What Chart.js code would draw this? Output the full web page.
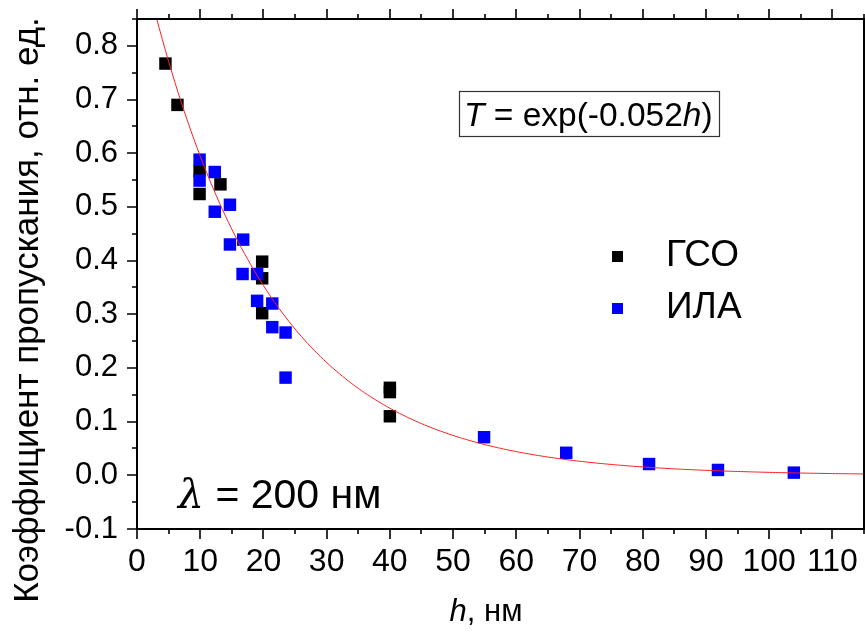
<!DOCTYPE html>
<html>
<head>
<meta charset="utf-8">
<script src="https://cdn.jsdelivr.net/npm/chart.js@4.4.1/dist/chart.umd.min.js"></script>
<style>
  html, body { margin: 0; padding: 0; background: #fff; }
  #wrap { width: 865px; height: 639px; position: relative; }
</style>
</head>
<body>
<div id="wrap"><canvas id="c" width="865" height="639"></canvas></div>
<script>
// Thickness h (nm) and transmission T for the two sample sets
const gsoH = [4.5, 6.4, 9.9, 9.9, 13.2, 19.8, 19.8, 19.8, 40.0, 40.0, 40.0];
const gsoT = [0.767, 0.690, 0.567, 0.524, 0.542, 0.398, 0.367, 0.302, 0.163, 0.155, 0.110];

const ilaH = [9.9, 9.9, 12.3, 12.3, 14.7, 14.7, 16.8, 16.7, 19.0, 19.0, 21.4, 21.4, 23.5, 23.5, 54.9, 67.9, 81.0, 91.9, 103.9];
const ilaT = [0.588, 0.549, 0.565, 0.491, 0.504, 0.430, 0.439, 0.375, 0.375, 0.325, 0.320, 0.276, 0.266, 0.182, 0.071, 0.042, 0.021, 0.010, 0.005];

// Exponential fit T = exp(-k h)
const fitK = 0.052;
const fitH = [];
for (let h = 3; h <= 115; h += 0.5) fitH.push(h);

const xTicks = [0, 10, 20, 30, 40, 50, 60, 70, 80, 90, 100, 110];
const yTicks = [-0.1, 0, 0.1, 0.2, 0.3, 0.4, 0.5, 0.6, 0.7, 0.8];

const FONT = '"Liberation Sans", Arial, sans-serif';

const toPts = (xs, ys) => xs.map((x, i) => ({ x: x, y: ys[i] }));

const zeroPad = s => { s.paddingTop = 0; s.paddingBottom = 0; s.paddingLeft = 0; s.paddingRight = 0; };

const frame = {
  id: 'frame',
  afterDatasetsDraw(chart) {
    const ctx = chart.ctx;
    const a = chart.chartArea;
    const xs = chart.scales.x, ys = chart.scales.y;
    ctx.save();
    ctx.strokeStyle = '#000';
    ctx.lineWidth = 2;
    ctx.strokeRect(a.left, a.top, a.right - a.left, a.bottom - a.top);
    // x ticks (bottom and top), major every 10, minor every 5
    ctx.lineWidth = 1.6;
    ctx.beginPath();
    for (let v = 0; v <= 115; v += 5) {
      const px = Math.round(xs.getPixelForValue(v));
      const len = (v % 10 === 0) ? 10 : 5;
      ctx.moveTo(px, a.bottom); ctx.lineTo(px, a.bottom + len);
      ctx.moveTo(px, a.top); ctx.lineTo(px, a.top - len);
    }
    // y ticks, major every 0.1, minor every 0.05
    for (let i = -2; i <= 17; i++) {
      const v = i * 0.05;
      const py = Math.round(ys.getPixelForValue(v));
      const len = (i % 2 === 0) ? 10 : 5;
      ctx.moveTo(a.left, py); ctx.lineTo(a.left - len, py);
    }
    ctx.stroke();

    // axis titles
    ctx.fillStyle = '#000';
    ctx.textBaseline = 'alphabetic';
    // x title: italic h
    const xt1 = 'h', xt2 = ', нм';
    ctx.font = 'italic 31px ' + FONT;
    const w1 = ctx.measureText(xt1).width;
    ctx.font = '31px ' + FONT;
    const w2 = ctx.measureText(xt2).width;
    const cx = 486;
    let sx = cx - (w1 + w2) / 2;
    ctx.font = 'italic 31px ' + FONT;
    ctx.textAlign = 'left';
    ctx.fillText(xt1, sx, 621);
    ctx.font = '31px ' + FONT;
    ctx.fillText(xt2, sx + w1, 621);

    // y title
    ctx.save();
    ctx.translate(38, 310);
    ctx.rotate(-Math.PI / 2);
    ctx.font = '35px ' + FONT;
    ctx.textAlign = 'center';
    ctx.fillText('Коэффициент пропускания, отн. ед.', 0, 0);
    ctx.restore();

    // fit equation box
    ctx.lineWidth = 1.2;
    ctx.strokeStyle = '#333';
    ctx.strokeRect(459.5, 91.5, 260, 45);
    const parts = [['T', true], [' = exp(-0.052', false], ['h', true], [')', false]];
    let tx = 464;
    ctx.textAlign = 'left';
    for (const [s, it] of parts) {
      ctx.font = (it ? 'italic ' : '') + '33.5px ' + FONT;
      ctx.fillText(s, tx, 126);
      tx += ctx.measureText(s).width;
    }

    // wavelength label
    ctx.font = 'italic 41px "DejaVu Serif", serif';
    ctx.fillText('λ', 178, 508);
    const lw = ctx.measureText('λ').width;
    ctx.font = '41px ' + FONT;
    ctx.fillText(' = 200 нм', 178 + lw, 508);

    // legend
    const items = [['ГСО', chart.data.datasets[2].backgroundColor, 256],
                   ['ИЛА', chart.data.datasets[1].backgroundColor, 308]];
    for (const [label, col, yc] of items) {
      ctx.fillStyle = col;
      ctx.fillRect(612, yc - 5, 11, 11);
      ctx.fillStyle = '#000';
      ctx.font = '37px ' + FONT;
      ctx.textBaseline = 'middle';
      ctx.fillText(label, 666, yc);
    }
    ctx.restore();
  }
};

new Chart(document.getElementById('c'), {
  type: 'scatter',
  data: {
    datasets: [
      {
        label: 'fit',
        type: 'line',
        data: fitH.map(h => ({ x: h, y: Math.exp(-fitK * h) })),
        borderColor: '#ff2020',
        borderWidth: 1,
        pointRadius: 0,
        fill: false,
        tension: 0,
        order: 0
      },
      {
        label: 'ИЛА',
        data: toPts(ilaH, ilaT),
        backgroundColor: '#0000ff',
        borderColor: '#0000ff',
        borderWidth: 0,
        pointStyle: 'rect',
        pointRadius: 8.8,
        order: 1
      },
      {
        label: 'ГСО',
        data: toPts(gsoH, gsoT),
        backgroundColor: '#000000',
        borderColor: '#000000',
        borderWidth: 0,
        pointStyle: 'rect',
        pointRadius: 8.8,
        order: 2
      }
    ]
  },
  options: {
    responsive: false,
    animation: false,
    events: [],
    layout: { autoPadding: false, padding: { top: 19, right: 1, left: 0, bottom: 0 } },
    plugins: { legend: { display: false }, tooltip: { enabled: false } },
    scales: {
      x: {
        type: 'linear',
        min: 0, max: 115,
        afterBuildTicks: s => { s.ticks = xTicks.map(v => ({ value: v })); },
        afterFit: s => { s.height = 110; zeroPad(s); },
        grid: { display: false, drawTicks: false },
        border: { display: false },
        ticks: {
          color: '#000',
          font: { family: FONT, size: 32 },
          padding: 14,
          maxRotation: 0,
          autoSkip: false,
          callback: v => String(v)
        }
      },
      y: {
        type: 'linear',
        min: -0.1, max: 0.85,
        afterBuildTicks: s => { s.ticks = yTicks.map(v => ({ value: v })); },
        afterFit: s => { s.width = 137; zeroPad(s); },
        grid: { display: false, drawTicks: false },
        border: { display: false },
        ticks: {
          color: '#000',
          font: { family: FONT, size: 31 },
          padding: 19,
          autoSkip: false,
          callback: v => Number(v).toFixed(1)
        }
      }
    }
  },
  plugins: [frame]
});
</script>
</body>
</html>
